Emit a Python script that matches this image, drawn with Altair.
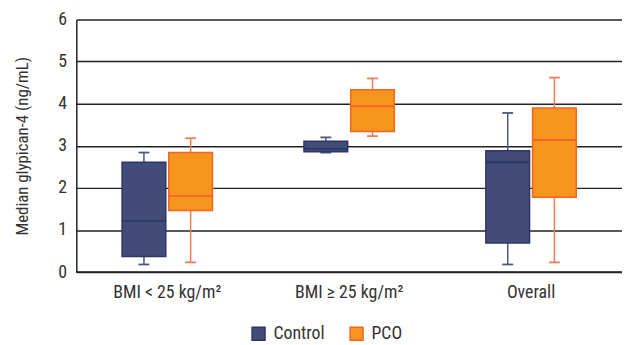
import altair as alt
import pandas as pd

groups = ["BMI < 25 kg/m²", "BMI ≥ 25 kg/m²", "Overall"]
series = ["Control", "PCO"]

control_low = [0.18, 2.84, 0.18]
control_q1 = [0.37, 2.86, 0.69]
control_med = [1.21, 2.93, 2.61]
control_q3 = [2.61, 3.11, 2.88]
control_high = [2.84, 3.20, 3.78]

pco_low = [0.23, 3.23, 0.23]
pco_q1 = [1.46, 3.34, 1.78]
pco_med = [1.81, 3.94, 3.14]
pco_q3 = [2.84, 4.33, 3.90]
pco_high = [3.18, 4.60, 4.62]

rows = []
for i, g in enumerate(groups):
    rows.append(dict(grp=g, s="Control", low=control_low[i], q1=control_q1[i],
                     med=control_med[i], q3=control_q3[i], high=control_high[i]))
    rows.append(dict(grp=g, s="PCO", low=pco_low[i], q1=pco_q1[i],
                     med=pco_med[i], q3=pco_q3[i], high=pco_high[i]))
df = pd.DataFrame(rows)
df["w"] = df["s"] + " whisker"

FONT = "Liberation Sans Narrow, Roboto Condensed, Arial Narrow, Liberation Sans, sans-serif"
TXT = "#333"

fill_scale = alt.Scale(domain=series, range=["#434C78", "#F7941D"])
stroke_scale = alt.Scale(domain=series, range=["#2B3766", "#F26522"])
whisk_scale = alt.Scale(domain=["Control whisker", "PCO whisker"], range=["#4A5785", "#F47B5A"])

x = alt.X("grp:N", sort=groups, title=None,
          scale=alt.Scale(paddingInner=0, paddingOuter=0),
          axis=alt.Axis(labelAngle=0, ticks=False, domain=False, labelFontSize=18,
                        labelColor=TXT, labelPadding=12, labelFont=FONT))
xo = alt.XOffset("s:N", sort=series,
                 scale=alt.Scale(paddingInner=0.064, paddingOuter=0.98))

base = alt.Chart(df)

whisk = base.mark_rule(strokeWidth=1.5).encode(
    x=x, xOffset=xo,
    y=alt.Y("low:Q", scale=alt.Scale(domain=[0, 6], nice=False),
            title="Median glypican-4 (ng/mL)",
            axis=alt.Axis(values=[0, 1, 2, 3, 4, 5, 6], grid=True, gridColor="#222",
                          gridWidth=1.5, ticks=False, domainColor="#222", domainWidth=1.5,
                          labelFontSize=18, labelColor=TXT, labelPadding=10,
                          labelFont=FONT, titleFont=FONT, titleFontSize=17,
                          titleFontWeight="normal", titleColor=TXT, titlePadding=26)),
    y2="high:Q",
    color=alt.Color("w:N", scale=whisk_scale, legend=None),
)

cap_lo = base.mark_tick(size=11, thickness=1.8, orient="horizontal", opacity=1).encode(
    x=x, xOffset=xo, y="low:Q",
    color=alt.Color("w:N", scale=whisk_scale, legend=None),
)
cap_hi = base.mark_tick(size=11, thickness=1.8, orient="horizontal", opacity=1).encode(
    x=x, xOffset=xo, y="high:Q",
    color=alt.Color("w:N", scale=whisk_scale, legend=None),
)

leg = alt.Legend(title=None, orient="none", legendX=175, legendY=308,
                 direction="horizontal", symbolType="square", symbolSize=170,
                 symbolStrokeWidth=1.5, labelFontSize=18, labelFont=FONT,
                 labelColor=TXT, columnPadding=22, labelOffset=6)

box = base.mark_bar(strokeWidth=1.5).encode(
    x=x, xOffset=xo, y="q1:Q", y2="q3:Q",
    fill=alt.Fill("s:N", scale=fill_scale, sort=series, legend=leg),
    stroke=alt.Stroke("s:N", scale=stroke_scale, sort=series, legend=leg),
)

med = base.mark_bar(strokeWidth=2, fillOpacity=0).encode(
    x=x, xOffset=xo, y="med:Q", y2="med:Q",
    stroke=alt.Stroke("s:N", scale=stroke_scale, sort=series, legend=leg),
)

bottom = alt.Chart(pd.DataFrame({"v": [0]})).mark_rule(color="#222", strokeWidth=1.8).encode(
    y="v:Q"
)

chart = alt.layer(whisk, cap_lo, cap_hi, box, med, bottom).properties(
    width=551, height=255,
    padding={"left": 69, "right": 0, "top": 10, "bottom": 70},
    autosize=alt.AutoSizeParams(type="none"),
    background="white",
).configure_view(stroke=None)

chart.save("out.html", embed_options={"renderer": "svg", "actions": False})
